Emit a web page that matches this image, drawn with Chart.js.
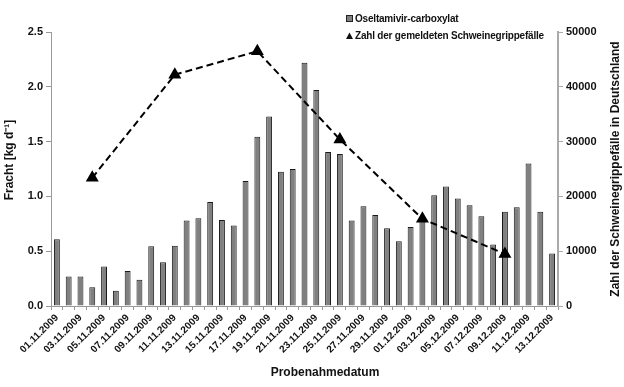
<!DOCTYPE html>
<html>
<head>
<meta charset="utf-8">
<script src="https://cdn.jsdelivr.net/npm/chart.js@4.4.1/dist/chart.umd.min.js"></script>
<style>
  html, body { margin: 0; padding: 0; background: #fff; }
  #wrap { position: relative; width: 624px; height: 387px; }
</style>
</head>
<body>
<div id="wrap"><canvas id="chart" width="624" height="387"></canvas></div>
<script>
// Probenahmedatum 01.11.2009 - 13.12.2009
const days = [
  '01.11.2009','02.11.2009','03.11.2009','04.11.2009','05.11.2009','06.11.2009','07.11.2009',
  '08.11.2009','09.11.2009','10.11.2009','11.11.2009','12.11.2009','13.11.2009','14.11.2009',
  '15.11.2009','16.11.2009','17.11.2009','18.11.2009','19.11.2009','20.11.2009','21.11.2009',
  '22.11.2009','23.11.2009','24.11.2009','25.11.2009','26.11.2009','27.11.2009','28.11.2009',
  '29.11.2009','30.11.2009','01.12.2009','02.12.2009','03.12.2009','04.12.2009','05.12.2009',
  '06.12.2009','07.12.2009','08.12.2009','09.12.2009','10.12.2009','11.12.2009','12.12.2009',
  '13.12.2009'
];

// Oseltamivir-carboxylat, Fracht [kg/d]
const fracht = [
  0.61, 0.27, 0.27, 0.17, 0.36, 0.14, 0.32, 0.24, 0.545, 0.40, 0.55,
  0.78, 0.80, 0.95, 0.785, 0.735, 1.14, 1.545, 1.73, 1.225, 1.25,
  2.22, 1.97, 1.405, 1.387, 0.78, 0.91, 0.83, 0.71, 0.59, 0.72,
  0.79, 1.01, 1.09, 0.98, 0.92, 0.82, 0.56, 0.86, 0.90, 1.30,
  0.86, 0.48
];

// gemeldete Schweinegrippefaelle (woechentlich)
const caseDays = ['04.11.2009', '11.11.2009', '18.11.2009', '25.11.2009', '02.12.2009', '09.12.2009'];
const caseValues = [23400, 42200, 46500, 30400, 15900, 9500];

const leftTicks = [0, 0.5, 1.0, 1.5, 2.0, 2.5];
const rightTicks = [0, 10000, 20000, 30000, 40000, 50000];

const cases = days.map(d => {
  const i = caseDays.indexOf(d);
  return i >= 0 ? caseValues[i] : null;
});

const FONT = '"Liberation Sans", Arial, sans-serif';
Chart.defaults.font.family = FONT;
Chart.defaults.color = '#111';

const textPlugin = {
  id: 'texts',
  afterDraw(chart) {
    const ctx = chart.ctx;
    ctx.save();
    ctx.fillStyle = '#111';
    ctx.font = 'bold 12px ' + FONT;
    ctx.textAlign = 'center';
    ctx.textBaseline = 'middle';

    // left title
    ctx.save();
    ctx.translate(10, 160);
    ctx.rotate(-Math.PI / 2);
    ctx.fillText('Fracht [kg d\u207B\u00B9]', 0, 0);
    ctx.restore();

    // right title (reads bottom to top)
    ctx.save();
    ctx.translate(616, 169);
    ctx.rotate(-Math.PI / 2);
    ctx.fillText('Zahl der Schweinegrippefälle in Deutschland', 0, 0);
    ctx.restore();

    // x title
    ctx.fillText('Probenahmedatum', 325, 373);

    // legend
    ctx.font = 'bold 10px ' + FONT;
    if ('letterSpacing' in ctx) ctx.letterSpacing = '-0.2px';
    ctx.textAlign = 'left';
    ctx.fillStyle = '#808080';
    ctx.strokeStyle = '#222';
    ctx.lineWidth = 1;
    ctx.fillRect(346.5, 15.5, 6, 6);
    ctx.strokeRect(346.5, 15.5, 6, 6);
    ctx.fillStyle = '#111';
    ctx.fillText('Oseltamivir-carboxylat', 355, 19);
    ctx.beginPath();
    ctx.moveTo(349.5, 32.5);
    ctx.lineTo(353, 39);
    ctx.lineTo(346, 39);
    ctx.closePath();
    ctx.fill();
    ctx.fillText('Zahl der gemeldeten Schweinegrippefälle', 355, 36);
    ctx.restore();
  }
};

new Chart(document.getElementById('chart').getContext('2d'), {
  type: 'bar',
  data: {
    labels: days,
    datasets: [
      {
        type: 'line',
        label: 'Zahl der gemeldeten Schweinegrippefälle',
        data: cases,
        yAxisID: 'y1',
        spanGaps: true,
        borderColor: '#000',
        borderWidth: 2,
        borderDash: [7, 4],
        pointStyle: 'triangle',
        pointRadius: 5.5,
        pointBackgroundColor: '#000',
        pointBorderColor: '#000',
        order: 0
      },
      {
        label: 'Oseltamivir-carboxylat',
        data: fracht,
        yAxisID: 'y',
        backgroundColor: '#808080',
        borderColor: '#1a1a1a',
        borderWidth: 1,
        barPercentage: 0.5,
        categoryPercentage: 1.0,
        order: 1
      }
    ]
  },
  options: {
    responsive: false,
    animation: false,
    layout: { padding: { top: 32, left: 0, right: 0, bottom: 0 } },
    plugins: { legend: { display: false }, tooltip: { enabled: false } },
    scales: {
      x: {
        afterFit(scale) { scale.height = 81; },
        border: { color: '#999', width: 1 },
        grid: { drawOnChartArea: false, color: '#999', tickLength: 4, offset: true },
        ticks: {
          autoSkip: false,
          maxRotation: 45,
          minRotation: 45,
          padding: 2,
          font: { size: 10, weight: 'bold' },
          callback(value, index) { return index % 2 === 0 ? days[index] : ''; }
        }
      },
      y: {
        position: 'left',
        min: 0,
        max: 2.5,
        afterFit(scale) { scale.width = 51; },
        afterBuildTicks(scale) { scale.ticks = leftTicks.map(v => ({ value: v })); },
        border: { color: '#999', width: 1 },
        grid: { drawOnChartArea: false, color: '#999', tickLength: 5 },
        ticks: {
          padding: 3,
          font: { size: 11, weight: 'bold' },
          callback(v) { return Number(v).toFixed(1); }
        }
      },
      y1: {
        position: 'right',
        min: 0,
        max: 50000,
        afterFit(scale) { scale.width = 66; },
        afterBuildTicks(scale) { scale.ticks = rightTicks.map(v => ({ value: v })); },
        border: { color: '#aaa', width: 2 },
        grid: { drawOnChartArea: false, color: '#aaa', tickLength: 5 },
        ticks: {
          padding: 3,
          font: { size: 11, weight: 'bold' },
          callback(v) { return String(v); }
        }
      }
    }
  },
  plugins: [textPlugin]
});
</script>
</body>
</html>
